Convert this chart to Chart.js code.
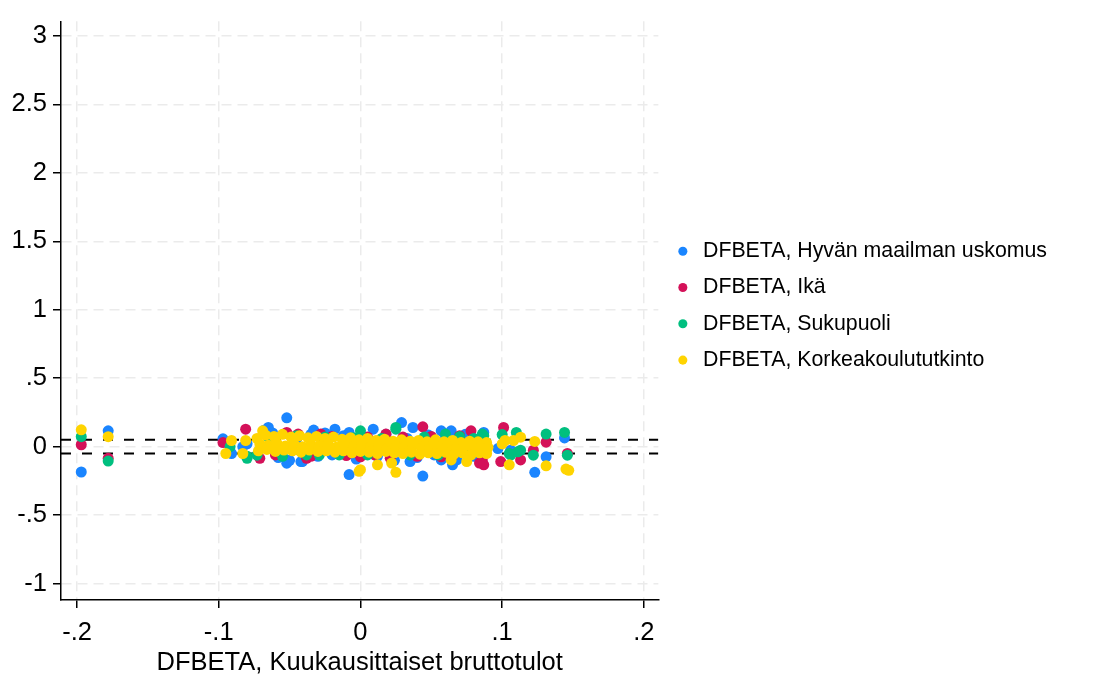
<!DOCTYPE html>
<html>
<head>
<meta charset="utf-8">
<script src="https://cdn.jsdelivr.net/npm/chart.js@4.4.1/dist/chart.umd.min.js"></script>
<style>
  html, body { margin: 0; padding: 0; background: #fff; }
</style>
</head>
<body>
<canvas id="chart" width="1118" height="678"></canvas>
<script>
const xTicks = [-0.2, -0.1, 0, 0.1, 0.2];
const xTickLabels = ["-.2", "-.1", "0", ".1", ".2"];
const yTicks = [-1, -0.5, 0, 0.5, 1, 1.5, 2, 2.5, 3];
const yTickLabels = ["-1", "-.5", "0", ".5", "1", "1.5", "2", "2.5", "3"];
const xTitle = "DFBETA, Kuukausittaiset bruttotulot";
const seriesNames = [
  "DFBETA, Hyvän maailman uskomus",
  "DFBETA, Ikä",
  "DFBETA, Sukupuoli",
  "DFBETA, Korkeakoulututkinto"
];
const refLines = [0.05, -0.05];

// [x, y] pairs
const hyvanUskomus = [
  [-0.197, -0.185], [-0.178, 0.116], [-0.097, 0.057], [-0.091, -0.05], [-0.083, 0.0], [-0.08, 0.021],
  [-0.068, 0.12], [-0.065, 0.14], [-0.062, 0.1], [-0.058, -0.08], [-0.052, 0.211], [-0.052, -0.121],
  [-0.05, -0.1], [-0.045, 0.06], [-0.042, -0.109], [-0.041, -0.109], [-0.035, 0.09], [-0.033, 0.121],
  [-0.03, -0.07], [-0.025, 0.1], [-0.02, -0.06], [-0.018, 0.128], [-0.012, 0.08], [-0.008, 0.104],
  [-0.008, -0.204], [-0.003, -0.09], [0.003, 0.07], [0.009, 0.128], [0.012, -0.07], [0.018, 0.09],
  [0.024, -0.1], [0.029, 0.176], [0.033, 0.06], [0.035, -0.109], [0.037, 0.14], [0.04, -0.08],
  [0.044, -0.215], [0.048, 0.085], [0.052, -0.06], [0.057, 0.116], [0.057, -0.097], [0.06, 0.07],
  [0.064, 0.116], [0.065, -0.133], [0.068, -0.097], [0.074, 0.09], [0.08, -0.07], [0.085, 0.05],
  [0.087, 0.104], [0.097, -0.014], [0.106, -0.026], [0.123, -0.187], [0.131, -0.074], [0.144, 0.064]
];
const ika = [
  [-0.197, 0.014], [-0.178, -0.085], [-0.097, 0.03], [-0.081, 0.128], [-0.071, -0.085], [-0.06, -0.06],
  [-0.052, 0.104], [-0.048, 0.07], [-0.044, 0.092], [-0.038, -0.085], [-0.035, -0.07], [-0.028, 0.092],
  [-0.02, 0.075], [-0.01, -0.065], [0.0, -0.074], [0.005, 0.07], [0.01, -0.06], [0.018, 0.092],
  [0.021, -0.085], [0.03, 0.07], [0.04, -0.07], [0.044, 0.145], [0.05, 0.075], [0.057, -0.074],
  [0.065, -0.065], [0.07, 0.08], [0.078, 0.116], [0.084, -0.12], [0.085, -0.05], [0.086, -0.097],
  [0.087, -0.133], [0.099, -0.109], [0.101, 0.14], [0.113, -0.097], [0.122, -0.026], [0.131, 0.033],
  [0.146, -0.05]
];
const sukupuoli = [
  [-0.197, 0.073], [-0.178, -0.105], [-0.092, 0.0], [-0.08, -0.07], [-0.08, -0.085], [-0.073, -0.062],
  [-0.065, 0.07], [-0.055, -0.07], [-0.045, 0.08], [-0.038, -0.06], [-0.029, -0.062], [-0.025, 0.07],
  [-0.015, -0.06], [-0.005, 0.065], [0.0, 0.116], [0.005, -0.06], [0.015, 0.06], [0.025, 0.128],
  [0.025, 0.14], [0.035, -0.06], [0.045, 0.07], [0.055, -0.06], [0.06, 0.092], [0.07, 0.075],
  [0.075, -0.06], [0.08, 0.06], [0.086, 0.092], [0.087, 0.08], [0.1, 0.088], [0.105, -0.05],
  [0.106, -0.062], [0.11, 0.104], [0.111, -0.038], [0.113, -0.026], [0.122, -0.062], [0.131, 0.092],
  [0.144, 0.104], [0.146, -0.062]
];
const korkeakoulu = [
  [-0.197, 0.123], [-0.178, 0.073], [-0.095, -0.05], [-0.091, 0.045], [-0.083, -0.05], [-0.081, 0.045],
  [-0.069, 0.116],
  [-0.073, 0.06], [-0.067, 0.085], [-0.061, 0.075], [-0.055, 0.09], [-0.049, 0.07], [-0.043, 0.08],
  [-0.037, 0.065], [-0.031, 0.075], [-0.025, 0.06], [-0.019, 0.07], [-0.013, 0.055], [-0.007, 0.065],
  [-0.001, 0.05], [0.005, 0.06], [0.011, 0.045], [0.017, 0.055], [0.023, 0.04], [0.029, 0.05],
  [0.035, 0.04], [0.041, 0.045], [0.047, 0.035], [0.053, 0.05], [0.059, 0.035], [0.065, 0.045],
  [0.071, 0.03], [0.077, 0.04], [0.083, 0.035], [0.089, 0.03],
  [-0.071, 0.02], [-0.065, 0.01], [-0.059, 0.025], [-0.053, 0.005], [-0.047, 0.02], [-0.041, 0.0],
  [-0.035, 0.015], [-0.029, 0.005], [-0.023, 0.02], [-0.017, -0.005], [-0.011, 0.01], [-0.005, 0.0],
  [0.001, 0.015], [0.007, -0.005], [0.013, 0.01], [0.019, -0.01], [0.025, 0.005], [0.031, -0.005],
  [0.037, 0.01], [0.043, -0.01], [0.049, 0.0], [0.055, -0.01], [0.061, 0.005], [0.067, -0.015],
  [0.073, 0.0], [0.079, -0.01], [0.085, 0.005], [0.09, -0.005],
  [-0.072, -0.03], [-0.066, -0.02], [-0.06, -0.035], [-0.054, -0.025], [-0.048, -0.03], [-0.042, -0.04],
  [-0.036, -0.025], [-0.03, -0.035], [-0.024, -0.03], [-0.018, -0.04], [-0.012, -0.03], [-0.006, -0.045],
  [0.0, -0.035], [0.006, -0.04], [0.012, -0.05], [0.018, -0.035], [0.024, -0.045], [0.03, -0.05],
  [0.036, -0.04], [0.042, -0.055], [0.048, -0.045], [0.054, -0.05], [0.06, -0.04], [0.066, -0.055],
  [0.072, -0.045], [0.078, -0.06], [0.084, -0.045], [0.089, -0.05],
  [-0.001, -0.18], [0.0, -0.168], [0.012, -0.133], [0.022, -0.12], [0.025, -0.187], [0.064, -0.097],
  [0.075, -0.109], [0.1, 0.02], [0.102, 0.045], [0.105, -0.133], [0.108, 0.045], [0.113, 0.069],
  [0.123, 0.038], [0.131, -0.14], [0.145, -0.164], [0.147, -0.173]
];

const xMin = -0.2113, xMax = 0.2102;
const yMin = -1.12, yMax = 3.107;

const colors = ["#1a85ff", "#d41159", "#00bf7f", "#ffd400"];
const allSeries = [hyvanUskomus, ika, sukupuoli, korkeakoulu];

const datasets = allSeries.map((s, i) => ({
  label: seriesNames[i],
  data: s.map(p => ({ x: p[0], y: p[1] })),
  backgroundColor: colors[i],
  borderColor: colors[i],
  borderWidth: 0,
  pointRadius: 5.5,
  pointHoverRadius: 5.5,
  pointStyle: "circle",
  order: 4 - i
}));

refLines.forEach(v => {
  datasets.push({
    label: "ref",
    data: [{ x: xMin, y: v }, { x: xMax, y: v }],
    showLine: true,
    borderColor: "#000",
    borderWidth: 2,
    borderDash: [10, 11],
    pointRadius: 0,
    pointHoverRadius: 0,
    order: 10
  });
});

const font = { family: "'Liberation Sans', Arial, sans-serif", size: 25.5 };

// nudge the legend block up a little
const legendNudge = {
  id: "legendNudge",
  afterLayout(chart) {
    if (chart.legend) chart.legend.bottom -= 10;
  }
};

new Chart(document.getElementById("chart"), {
  type: "scatter",
  data: { datasets },
  plugins: [legendNudge],
  options: {
    responsive: false,
    animation: false,
    layout: { padding: { top: 6, right: 61, left: 0, bottom: 0 } },
    plugins: {
      tooltip: { enabled: false },
      legend: {
        position: "right",
        align: "center",
        fullSize: false,
        maxWidth: 460,
        labels: {
          usePointStyle: true,
          pointStyle: "circle",
          boxWidth: 19,
          boxHeight: 6.4,
          padding: 15,
          color: "#000",
          font: { family: font.family, size: 21.3 },
          filter: item => item.datasetIndex < 4,
          sort: (a, b) => a.datasetIndex - b.datasetIndex
        }
      }
    },
    scales: {
      x: {
        type: "linear",
        min: xMin,
        max: xMax,
        afterBuildTicks: s => { s.ticks = xTicks.map(v => ({ value: v })); },
        afterFit: s => { s.height = 78; },
        ticks: {
          callback: (v, i) => xTickLabels[i],
          color: "#000",
          font: font,
          padding: 10,
          maxRotation: 0
        },
        grid: { color: "#ebebeb", lineWidth: 1.5, tickColor: "#000", tickLength: 8, tickWidth: 1.5 },
        border: { color: "#000", width: 1.5, dash: [10, 6] },
        title: { display: true, text: xTitle, color: "#000", font: font, padding: { top: 0, bottom: 0 } }
      },
      y: {
        type: "linear",
        min: yMin,
        max: yMax,
        afterBuildTicks: s => { s.ticks = yTicks.map(v => ({ value: v })); },
        afterFit: s => { s.width = 61; },
        ticks: {
          callback: (v, i) => yTickLabels[i],
          color: "#000",
          font: font,
          padding: 6
        },
        grid: { color: "#ebebeb", lineWidth: 1.5, tickColor: "#000", tickLength: 8, tickWidth: 1.5 },
        border: { color: "#000", width: 1.5, dash: [10, 6] }
      }
    }
  }
});
</script>
</body>
</html>
